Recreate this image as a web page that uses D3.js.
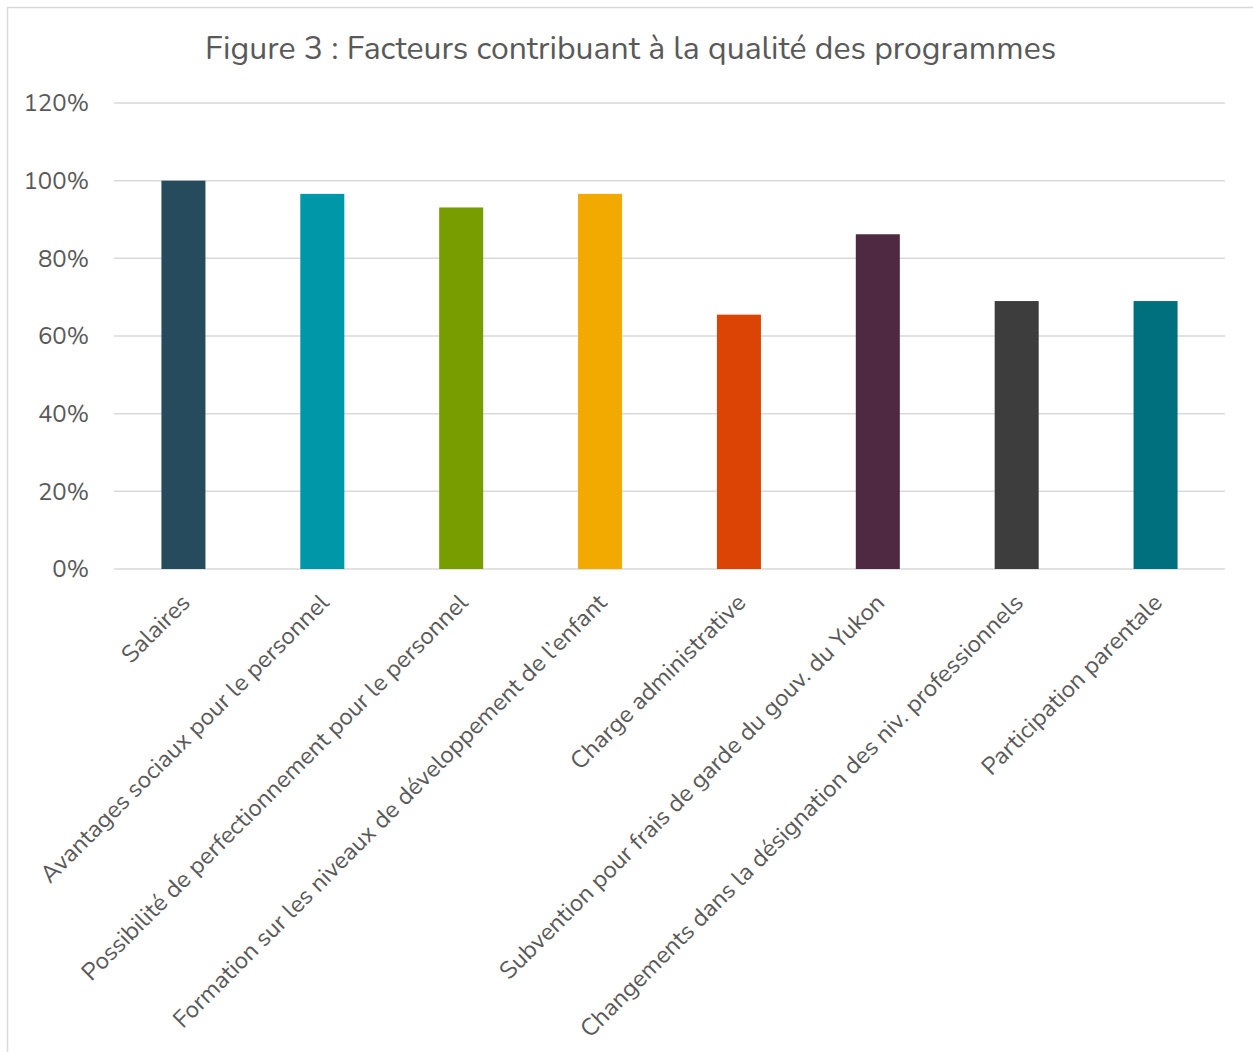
<!DOCTYPE html>
<html>
<head>
<meta charset="utf-8">
<script src="https://cdn.jsdelivr.net/npm/d3@7"></script>
<style>
  body { margin: 0; background: #fff; }
  svg { display: block; }
</style>
</head>
<body>
<div id="chart"></div>
<script>
// data (29 respondents)
const categories = [
    "Salaires",
    "Avantages sociaux pour le personnel",
    "Possibilité de perfectionnement pour le personnel",
    "Formation sur les niveaux de développement de l’enfant",
    "Charge administrative",
    "Subvention pour frais de garde du gouv. du Yukon",
    "Changements dans la désignation des niv. professionnels",
    "Participation parentale"
];
const values = [1.0, 0.966, 0.931, 0.966, 0.655, 0.862, 0.69, 0.69];
const barColors = ["#264B5C", "#0097A9", "#789D00", "#F2A900", "#DC4405", "#4F2942", "#3D3D3D", "#00707F"];
const yTicks = [0, 0.2, 0.4, 0.6, 0.8, 1.0, 1.2];
const title = "Figure 3 : Facteurs contribuant à la qualité des programmes";

const WIDTH = 1253, HEIGHT = 1052;
const MARGINS = { top: 103, right: 28, bottom: 483, left: 114 };
const FONT = "Nunito, Lato, 'Open Sans', sans-serif";
const TEXT_COLOR = "#595959";

const svg = d3.select("#chart")
    .append("svg")
    .attr("width", WIDTH)
    .attr("height", HEIGHT);

// outer frame (runs off the picture on right and bottom)
svg.append("rect")
    .attr("x", 7.5).attr("y", 7.5)
    .attr("width", WIDTH + 20).attr("height", HEIGHT + 20)
    .attr("fill", "none")
    .attr("stroke", "#d9d9d9")
    .attr("stroke-width", 1.5);

const x = d3.scaleBand()
    .domain(categories)
    .range([MARGINS.left, WIDTH - MARGINS.right])
    .paddingInner(0.683)
    .paddingOuter(0.3415);

const y = d3.scaleLinear()
    .domain([0, 1.2])
    .range([HEIGHT - MARGINS.bottom, MARGINS.top]);

// gridlines
svg.append("g")
    .selectAll("line")
    .data(yTicks)
    .enter().append("line")
    .attr("x1", MARGINS.left)
    .attr("x2", WIDTH - MARGINS.right)
    .attr("y1", d => y(d))
    .attr("y2", d => y(d))
    .attr("stroke", "#d9d9d9")
    .attr("stroke-width", 1.5);

// y axis labels
const yAxis = d3.axisLeft(y)
    .tickValues(yTicks)
    .tickFormat(d3.format(".0%"))
    .tickSize(0)
    .tickPadding(25);

svg.append("g")
    .attr("transform", `translate(${MARGINS.left},0)`)
    .call(yAxis)
    .call(g => g.select(".domain").remove())
    .selectAll("text")
    .attr("font-family", FONT)
    .attr("font-size", "24px")
    .attr("fill", TEXT_COLOR);

// bars
svg.append("g")
    .selectAll("rect")
    .data(values)
    .enter().append("rect")
    .attr("x", (d, i) => x(categories[i]))
    .attr("width", x.bandwidth())
    .attr("y", d => y(d))
    .attr("height", d => y(0) - y(d))
    .attr("fill", (d, i) => barColors[i]);

// x axis with rotated labels
const xAxis = d3.axisBottom(x).tickSize(0).tickPadding(0);
svg.append("g")
    .attr("transform", `translate(0,${y(0)})`)
    .call(xAxis)
    .call(g => g.select(".domain").remove())
    .selectAll("text")
    .attr("font-family", FONT)
    .attr("font-size", "24px")
    .attr("fill", TEXT_COLOR)
    .attr("text-anchor", "end")
    .attr("dy", "0")
    .attr("transform", "translate(8,35) rotate(-45)");

// title
svg.append("text")
    .attr("x", (MARGINS.left + WIDTH - MARGINS.right) / 2 - 39)
    .attr("y", 59)
    .attr("text-anchor", "middle")
    .attr("font-family", FONT)
    .attr("font-size", "32px")
    .attr("fill", TEXT_COLOR)
    .text(title);
</script>
</body>
</html>
